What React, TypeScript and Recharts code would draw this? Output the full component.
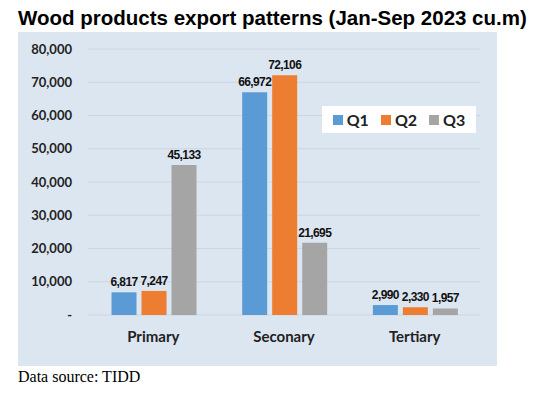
import React from 'react';
import { BarChart, Bar, XAxis, YAxis, CartesianGrid, LabelList } from 'recharts';

const categories = ['Primary', 'Seconary', 'Tertiary'];
const q1 = [6817, 66972, 2990];
const q2 = [7247, 72106, 2330];
const q3 = [45133, 21695, 1957];
const yTicks = [0, 10000, 20000, 30000, 40000, 50000, 60000, 70000, 80000];

const series = [
  { key: 'Q1', color: '#5b9bd5' },
  { key: 'Q2', color: '#ed7d31' },
  { key: 'Q3', color: '#a5a5a5' },
];

const data = categories.map((name, i) => ({ name, Q1: q1[i], Q2: q2[i], Q3: q3[i] }));

const fmt = (v: number) => (v === 0 ? '-' : v.toLocaleString('en-US'));

// legend sits over the plot as a white box, drawn outside recharts so it takes no space
const LegendBox = () => (
  <div
    style={{
      position: 'absolute',
      left: 322,
      top: 106,
      background: '#fff',
      width: 154,
      height: 27,
      display: 'flex',
      alignItems: 'center',
      justifyContent: 'center',
      gap: 12,
      fontFamily: 'Lato, "Open Sans", sans-serif',
      fontWeight: 700,
      fontSize: 16,
      color: '#222',
    }}
  >
    {series.map((s) => (
      <span key={s.key} style={{ display: 'flex', alignItems: 'center', gap: 4 }}>
        <span style={{ width: 10, height: 10, background: s.color, display: 'inline-block' }} />
        {s.key}
      </span>
    ))}
  </div>
);

export default function App() {
  return (
    <div style={{ position: 'relative', margin: -8, width: 539, height: 395, background: '#fff' }}>
      <div
        style={{
          position: 'absolute',
          left: 18,
          top: 6,
          fontFamily: '"Liberation Sans", Arial, sans-serif',
          fontWeight: 700,
          fontSize: 20.5,
          color: '#000',
          whiteSpace: 'nowrap',
        }}
      >
        Wood products export patterns (Jan-Sep 2023 cu.m)
      </div>
      <div style={{ position: 'absolute', left: 18, top: 32 }}>
        <BarChart
          width={479}
          height={334}
          data={data}
          margin={{ top: 17, right: 17, bottom: 0, left: 0 }}
          barCategoryGap="18%"
          barGap={5}
          style={{ background: '#dce6f1' }}
        >
          <CartesianGrid vertical={false} stroke="#cdd5de" />
          <XAxis
            dataKey="name"
            axisLine={false}
            tickLine={false}
            height={51}
            tickMargin={10}
            tick={{ fill: '#222', fontSize: 15, fontWeight: 700, fontFamily: 'Lato, "Open Sans", sans-serif' }}
          />
          <YAxis
            width={70}
            domain={[0, 80000]}
            ticks={yTicks}
            axisLine={false}
            tickLine={false}
            tickMargin={10}
            tickFormatter={fmt}
            tick={{ fill: '#222', fontSize: 13, fontWeight: 700, fontFamily: 'Lato, "Open Sans", sans-serif' }}
          />
          {series.map((s) => (
            <Bar key={s.key} dataKey={s.key} fill={s.color} isAnimationActive={false}>
              <LabelList
                dataKey={s.key}
                position="top"
                offset={6}
                formatter={(v: number) => fmt(v)}
                style={{
                  fill: '#111',
                  fontSize: 12,
                  fontWeight: 700,
                  letterSpacing: -0.6,
                  fontFamily: '"Liberation Sans", Arial, sans-serif',
                }}
              />
            </Bar>
          ))}
        </BarChart>
      </div>
      <LegendBox />
      <div
        style={{
          position: 'absolute',
          left: 18,
          top: 368,
          fontFamily: '"Liberation Serif", "Times New Roman", serif',
          fontSize: 16,
          color: '#000',
        }}
      >
        Data source: TIDD
      </div>
    </div>
  );
}
